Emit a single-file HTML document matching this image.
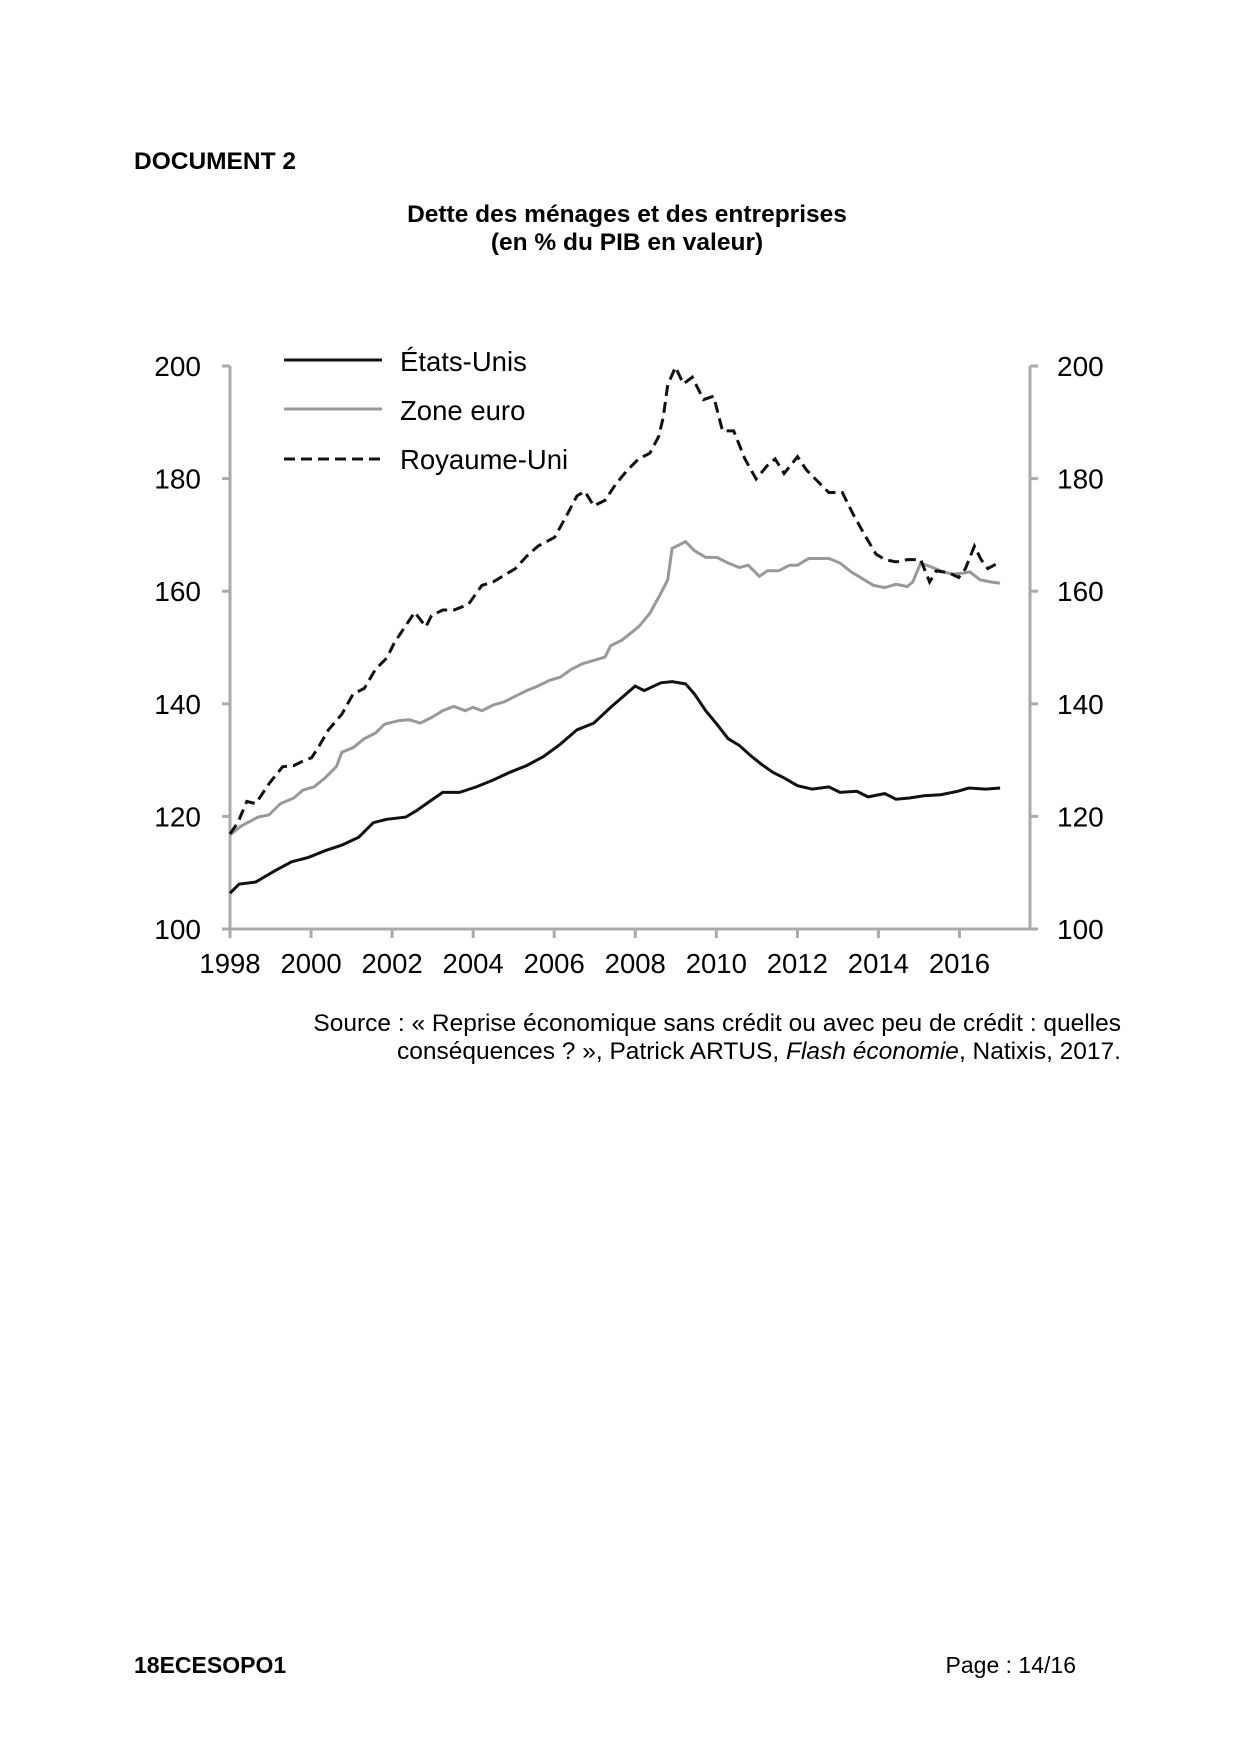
<!DOCTYPE html>
<html><head><meta charset="utf-8"><style>
body{margin:0;background:#fff;}
.p{position:relative;width:1240px;height:1754px;font-family:"Liberation Sans",sans-serif;color:#000;}
.t{position:absolute;white-space:nowrap;}
</style></head><body><div class="p">
<div class="t" style="left:134px;top:148px;font-size:24.5px;font-weight:bold">DOCUMENT 2</div>
<div class="t" style="left:0;width:1254px;top:201px;font-size:24.5px;font-weight:bold;text-align:center;line-height:28px">Dette des ménages et des entreprises<br>(en % du PIB en valeur)</div>
<svg id="c" width="1240" height="1000" style="position:absolute;left:0;top:0" font-family="Liberation Sans, sans-serif"></svg>
<div class="t" style="right:119px;top:1010px;font-size:24.5px;text-align:right;line-height:28px">Source : « Reprise économique sans crédit ou avec peu de crédit : quelles<br>conséquences ? », Patrick ARTUS, <i>Flash économie</i>, Natixis, 2017.</div>
<div class="t" style="left:134px;top:1652px;font-size:23px;font-weight:bold">18ECESOPO1</div>
<div class="t" style="right:164px;top:1652px;font-size:23px">Page : 14/16</div>
</div>
<script>
var s=document.getElementById('c'),h='';
var L=230,R=1030,T=366,B=929;
function Y(v){return B-(v-100)*(B-T)/100;}
h+='<line x1="'+L+'" y1="'+T+'" x2="'+L+'" y2="'+B+'" stroke="#aaa" stroke-width="3"/>';
h+='<line x1="'+R+'" y1="'+T+'" x2="'+R+'" y2="'+B+'" stroke="#aaa" stroke-width="3"/>';
h+='<line x1="'+L+'" y1="'+B+'" x2="'+R+'" y2="'+B+'" stroke="#aaa" stroke-width="3"/>';
for(var v=100;v<=200;v+=20){var y=Y(v);
h+='<line x1="'+(L-8)+'" y1="'+y+'" x2="'+L+'" y2="'+y+'" stroke="#aaa" stroke-width="3"/>';
h+='<line x1="'+R+'" y1="'+y+'" x2="'+(R+8)+'" y2="'+y+'" stroke="#aaa" stroke-width="3"/>';
h+='<text x="201" y="'+(y+10)+'" font-size="28" text-anchor="end">'+v+'</text>';
h+='<text x="1057" y="'+(y+10)+'" font-size="28">'+v+'</text>';}
for(var i=0;i<10;i++){var x=L+i*81.05;
h+='<line x1="'+x+'" y1="'+B+'" x2="'+x+'" y2="'+(B+9)+'" stroke="#aaa" stroke-width="3"/>';
h+='<text x="'+x+'" y="973" font-size="27.5" text-anchor="middle">'+(1998+2*i)+'</text>';}
function P(a){var o=[];for(var i=0;i<a.length;i+=2){o.push((230+(a[i]-205)*40.52/36.2).toFixed(1)+','+(366+(a[i+1]-327)*563/503).toFixed(1));}return o.join(' ');}
var eu=[205,746,215,738,230,730,240,728,250,718,262,713,270,706,280,703,290,695,300,685,305,672,315,668,325,660,335,655,343,647,355,644,365,643,375,646,385,641,395,635,405,631,415,635,422,632,430,635,440,630,450,627,460,622,470,617,480,613,490,608,500,605,510,598,520,593,530,590,540,587,545,577,555,572,565,564,570,560,580,548,590,530,596,518,600,490,612,484,620,492,630,498,640,498,650,503,660,507,668,505,678,515,685,510,695,510,705,505,712,505,722,499,740,499,750,503,760,511,770,517,780,523,790,525,800,522,810,524,815,520,822,503,830,506,840,510,850,513,860,512,866,511,875,518,885,520,893,521];
var us=[205,798,213,790,228,788,245,778,260,770,275,766,290,760,305,755,320,748,333,735,345,732,362,730,372,724,382,717,395,708,410,708,425,703,440,697,455,690,470,684,485,676,500,665,515,652,530,646,545,632,567,613,575,617,590,610,600,609,612,611,620,620,630,635,640,647,650,660,660,666,670,675,680,683,690,690,700,695,712,702,725,705,740,703,750,708,765,707,775,712,790,709,800,714,812,713,825,711,840,710,855,707,865,704,880,705,893,704];
var uk=[205,745,212,735,220,716,228,718,240,700,252,685,262,684,270,680,278,677,285,666,293,652,305,638,315,620,325,615,335,598,345,588,352,574,360,562,370,547,380,560,385,550,395,545,405,545,418,540,425,530,430,523,440,520,460,508,470,497,480,488,495,480,505,462,515,443,522,439,530,452,540,447,550,432,560,420,570,410,580,405,588,390,592,373,596,344,603,328,610,343,618,337,628,357,637,354,645,385,655,385,665,410,675,428,685,416,692,410,700,423,712,408,720,420,728,428,740,440,752,440,762,460,772,478,782,495,790,500,800,502,810,500,822,500,830,520,836,510,848,512,856,516,862,508,870,488,876,500,882,508,893,502];
h+='<polyline points="'+P(eu)+'" fill="none" stroke="#999" stroke-width="3"/>';
h+='<polyline points="'+P(us)+'" fill="none" stroke="#111" stroke-width="3"/>';
h+='<polyline points="'+P(uk)+'" fill="none" stroke="#111" stroke-width="3" stroke-dasharray="11,6"/>';
h+='<line x1="284" y1="360" x2="382" y2="360" stroke="#111" stroke-width="3"/>';
h+='<line x1="284" y1="409" x2="382" y2="409" stroke="#999" stroke-width="3"/>';
h+='<line x1="284" y1="459" x2="382" y2="459" stroke="#111" stroke-width="3" stroke-dasharray="11,6"/>';
h+='<text x="400" y="371" font-size="27.5">États-Unis</text>';
h+='<text x="400" y="420" font-size="27.5">Zone euro</text>';
h+='<text x="400" y="469" font-size="27.5">Royaume-Uni</text>';
s.innerHTML=h;
</script></body></html>
